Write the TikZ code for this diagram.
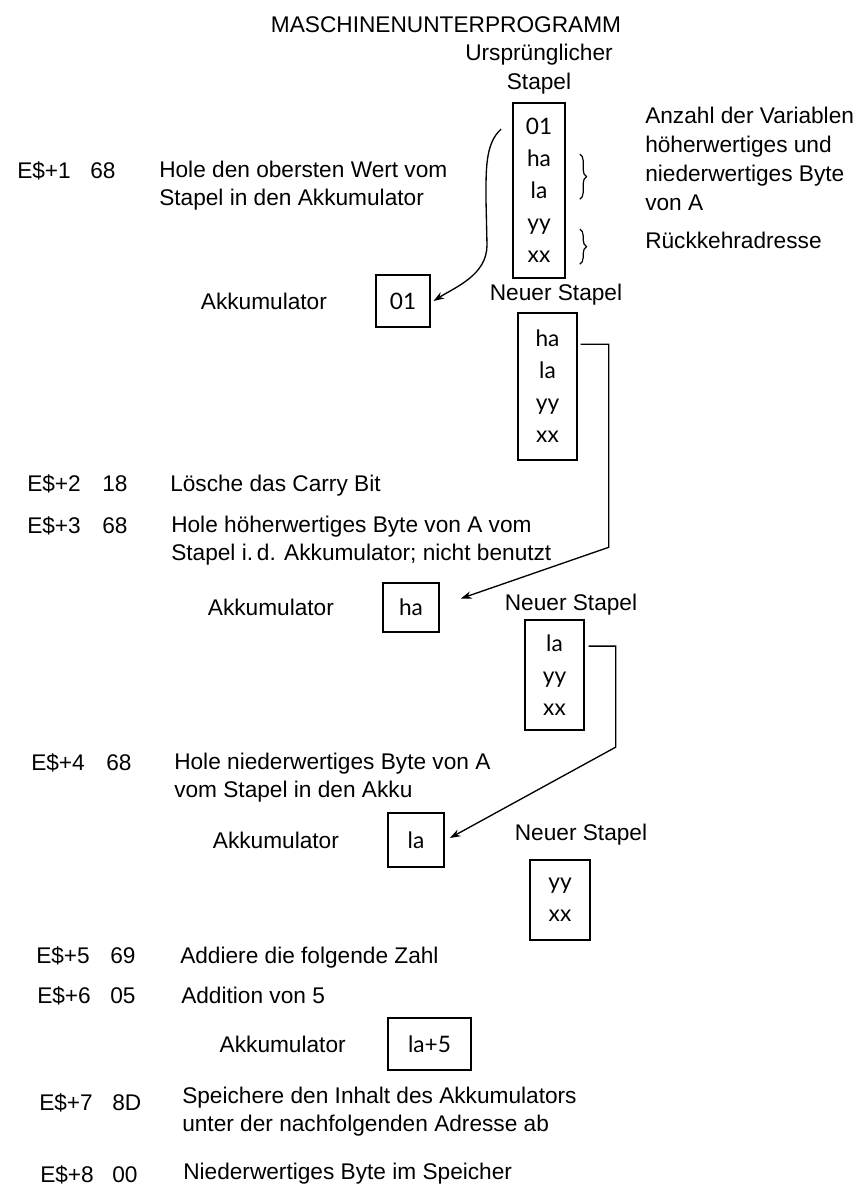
\documentclass[tikz,border=0pt]{standalone}
\usepackage{fontspec}
\setmainfont{Liberation Sans}
\newfontfamily\stapelfont{Lato}
\usetikzlibrary{positioning, arrows.meta, decorations.pathreplacing, calc}

\begin{document}
\begin{tikzpicture}[
    x=0.75pt, y=-0.75pt,
    every node/.style={inner sep=0pt, font=\fontsize{17}{21}\selectfont},
    befehl/.style={anchor=base west, align=left, font=\fontsize{17}{20.5}\selectfont},
    notiz/.style={anchor=base west, align=left, font=\fontsize{17}{21.75}\selectfont},
    stapel/.style={draw, line width=1.3pt, align=center,
      font=\stapelfont\fontsize{17}{24}\selectfont},
    akku/.style={draw, line width=1.3pt, font=\stapelfont\fontsize{17}{21}\selectfont},
    verb/.style={line width=1pt, -{Stealth[length=8pt,width=5.5pt]}},
    klammer/.style={line width=0.9pt, decorate, decoration={brace, amplitude=5pt}},
    node distance=36pt,
  ]
    \fill[white] (0,0) rectangle (867,1190);
    \useasboundingbox (0,0) rectangle (867,1190);

    \node (titel) at (446,25) {MASCHINENUNTERPROGRAMM};

    % urspruenglicher Stapel
    \node[stapel, minimum width=39pt, minimum height=131.25pt] (st1) at (539,190.5) {01\\ha\\la\\yy\\xx};
    \node[align=center, font=\fontsize{17}{21.75}\selectfont, above=6pt of st1] (urs) {Ursprünglicher\\Stapel};
    \draw[klammer] ($(st1.north east)+(14,52)$) -- ($(st1.north east)+(14,97)$);
    \draw[klammer] ($(st1.north east)+(14,127)$) -- ($(st1.north east)+(14,162)$);
    \node[notiz] (anz) at (645,210) {Anzahl der Variablen\\höherwertiges und\\niederwertiges Byte\\von A};
    \node[notiz] (rueck) at (645,248) {Rückkehradresse};

    % E$+1
    \node[befehl] (a1) at (17,178) {E\$+1};
    \node[befehl] (o1) at (90,178) {68};
    \node[befehl] (b1) at (159,205.3) {Hole den obersten Wert vom\\Stapel in den Akkumulator};
    \node[akku, minimum width=40.5pt, minimum height=39pt] (acc1) at (403,301) {01};
    \node[left=of acc1] (akl1) {Akkumulator};
    \node (neu1) at (556,295) {Neuer Stapel};
    \node[stapel, minimum width=44pt, minimum height=110pt] (st2) at (547.5,386.5) {ha\\la\\yy\\xx};
    \draw[verb] ($(st1.north west)+(-11,27)$) .. controls +(-16,14) and +(0,-30) .. (486,200)
      -- (487,245) .. controls +(0,30) and +(22,-14) .. ([xshift=2pt]acc1.east);

    % E$+2, E$+3
    \node[befehl] (a2) at (27,491) {E\$+2};
    \node[befehl] (o2) at (102,491) {18};
    \node[befehl] (b2) at (170,491) {Lösche das Carry Bit};
    \node[befehl] (a3) at (27,533) {E\$+3};
    \node[befehl] (o3) at (102,533) {68};
    \node[befehl] (b3) at (171,560.3) {Hole höherwertiges Byte von A vom\\Stapel i.\,d. Akkumulator; nicht benutzt};
    \node[akku, minimum width=42pt, minimum height=37pt] (acc2) at (411,607.5) {ha};
    \node[left=of acc2] (akl2) {Akkumulator};
    \node (neu2) at (571,605) {Neuer Stapel};
    \node[stapel, minimum width=44pt, minimum height=82.5pt] (st3) at (554.5,675) {la\\yy\\xx};
    \draw[verb] ($(st2.north east)+(3,32)$) -- ++(28,0) -- ++(0,203) -- ([shift={(21,-9)}]acc2.east);

    % E$+4
    \node[befehl] (a4) at (31,770) {E\$+4};
    \node[befehl] (o4) at (106,770) {68};
    \node[befehl] (b4) at (174,797.3) {Hole niederwertiges Byte von A\\vom Stapel in den Akku};
    \node[akku, minimum width=42pt, minimum height=40.5pt] (acc3) at (416,840) {la};
    \node[left=of acc3] (akl3) {Akkumulator};
    \node (neu3) at (581,835) {Neuer Stapel};
    \node[stapel, minimum width=45pt, minimum height=60pt] (st4) at (560,900) {yy\\xx};
    \draw[verb] ($(st3.north east)+(4,27)$) -- ++(27,0) -- ++(0,101) -- ([shift={(5,-2)}]acc3.east);

    % E$+5 bis E$+8
    \node[befehl] (a5) at (36,963) {E\$+5};
    \node[befehl] (o5) at (110,963) {69};
    \node[befehl] (b5) at (180,963) {Addiere die folgende Zahl};
    \node[befehl] (a6) at (37,1003) {E\$+6};
    \node[befehl] (o6) at (110,1003) {05};
    \node[befehl] (b6) at (181,1003) {Addition von 5};
    \node[akku, minimum width=62pt, minimum height=39pt] (acc4) at (429.5,1044) {la+5};
    \node[left=31pt of acc4] (akl4) {Akkumulator};
    \node[befehl] (a7) at (39,1110) {E\$+7};
    \node[befehl] (o7) at (112,1110) {8D};
    \node[befehl] (b7) at (182,1131.3) {Speichere den Inhalt des Akkumulators\\unter der nachfolgenden Adresse ab};
    \node[befehl] (a8) at (40,1182) {E\$+8};
    \node[befehl] (o8) at (112,1182) {00};
    \node[befehl] (b8) at (183,1179) {Niederwertiges Byte im Speicher};
  \end{tikzpicture}
\end{document}
